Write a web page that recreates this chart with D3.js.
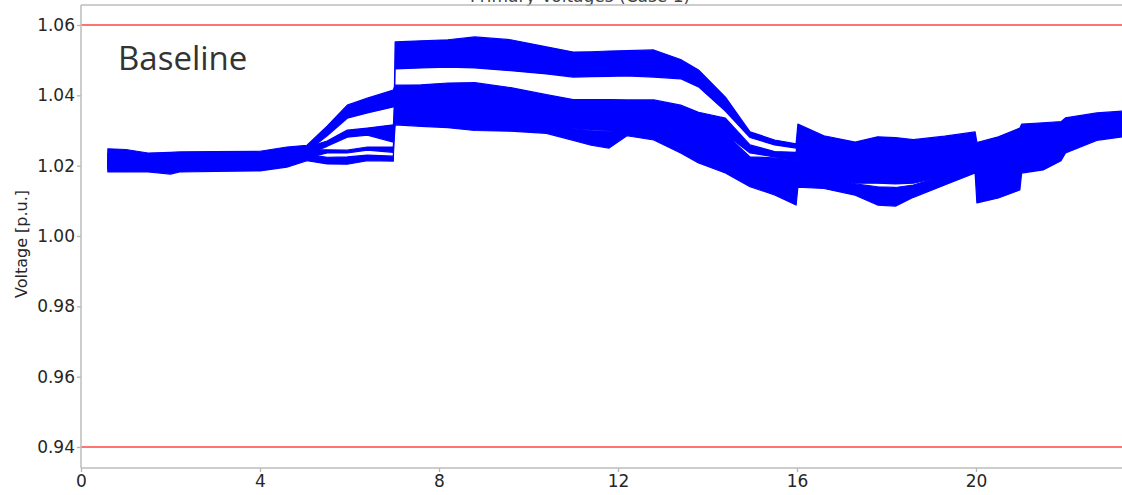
<!DOCTYPE html>
<html>
<head>
<meta charset="utf-8">
<script src="https://cdnjs.cloudflare.com/ajax/libs/d3/7.8.5/d3.min.js"></script>
<style>
    body { margin: 0; background: #fff; }
    .tick text { font-family: "DejaVu Sans", sans-serif; font-size: 17px; fill: #262626; }
    .tick line { stroke: #b5b5b5; stroke-width: 1.3; }
    .y-axis-legend { font-family: "DejaVu Sans", sans-serif; font-size: 16px; fill: #262626; }
    .chart-title { font-family: "DejaVu Sans", sans-serif; font-size: 17px; fill: #444; }
    .case-label { font-family: "Open Sans", sans-serif; font-size: 33px; fill: #333; }
</style>
</head>
<body>
<svg class="VoltChart" width="1122" height="495"></svg>
<script>
// hour of day for every reading below
var hours = [0.6, 1.0, 1.5, 2.0, 2.2, 3.0, 4.0, 4.6, 5.05, 5.5, 5.95, 6.4, 6.98,
    7.02, 7.6, 8.2, 8.8, 9.6, 10.4, 11.0, 11.4, 11.8, 12.2, 12.8, 13.4, 13.8, 14.4, 14.95, 15.5, 15.98,
    16.02, 16.6, 17.3, 17.8, 18.2, 18.6, 19.3, 19.98, 20.02, 20.5, 20.98, 21.02, 21.5, 21.9, 22.0, 22.7, 23.4];

// envelope of each group of node voltages (high / low edge), p.u.
var upperHi = [1.0215, 1.0212, 1.0210, 1.0208, 1.0210, 1.0212, 1.0214, 1.0220, 1.0232, 1.0224, 1.0225, 1.0230, 1.0227,
    1.0552, 1.0555, 1.0558, 1.0566, 1.0558, 1.0538, 1.0523, 1.0524, 1.0526, 1.0527, 1.0529, 1.0502, 1.0472, 1.0395, 1.0296, 1.0273, 1.0262,
    1.0318, 1.0285, 1.0267, 1.0282, 1.0280, 1.0274, 1.0284, 1.0296, 1.0266, 1.0282, 1.0307, 1.0318, 1.0322, 1.0325, 1.0336, 1.0350, 1.0356];
var upperLo = [1.0182, 1.0183, 1.0182, 1.0176, 1.0182, 1.0184, 1.0185, 1.0196, 1.0214, 1.0205, 1.0204, 1.0214, 1.0213,
    1.0475, 1.0478, 1.0480, 1.0478, 1.0470, 1.0461, 1.0452, 1.0453, 1.0454, 1.0455, 1.0452, 1.0447, 1.0424, 1.0355, 1.0280, 1.0259, 1.0250,
    1.0275, 1.0245, 1.0230, 1.0240, 1.0238, 1.0235, 1.0245, 1.0258, 1.0235, 1.0250, 1.0270, 1.0285, 1.0290, 1.0295, 1.0305, 1.0325, 1.0335];

var midTopHi = [1.0248, 1.0246, 1.0236, 1.0238, 1.0239, 1.0240, 1.0241, 1.0253, 1.0258, 1.0312, 1.0372, 1.0392, 1.0415,
    1.0429, 1.0430, 1.0435, 1.0436, 1.0422, 1.0402, 1.0388, 1.0388, 1.0388, 1.0387, 1.0387, 1.0372, 1.0352, 1.0335, 1.0259, 1.0240, 1.0238,
    1.0280, 1.0250, 1.0235, 1.0245, 1.0243, 1.0240, 1.0250, 1.0262, 1.0240, 1.0255, 1.0275, 1.0290, 1.0295, 1.0300, 1.0310, 1.0330, 1.0340];
var midTopLo = [1.0225, 1.0222, 1.0215, 1.0214, 1.0216, 1.0218, 1.0219, 1.0228, 1.0240, 1.0285, 1.0335, 1.0350, 1.0367,
    1.0380, 1.0385, 1.0388, 1.0390, 1.0378, 1.0360, 1.0350, 1.0350, 1.0350, 1.0348, 1.0345, 1.0335, 1.0310, 1.0290, 1.0236, 1.0225, 1.0215,
    1.0230, 1.0205, 1.0190, 1.0195, 1.0192, 1.0190, 1.0205, 1.0222, 1.0195, 1.0215, 1.0230, 1.0250, 1.0255, 1.0265, 1.0275, 1.0305, 1.0315];

var midLowHi = [1.0235, 1.0232, 1.0228, 1.0226, 1.0228, 1.0230, 1.0231, 1.0240, 1.0252, 1.0270, 1.0301, 1.0307, 1.0316,
    1.0385, 1.0388, 1.0390, 1.0392, 1.0380, 1.0365, 1.0352, 1.0352, 1.0352, 1.0350, 1.0348, 1.0338, 1.0315, 1.0290, 1.0225, 1.0222, 1.0215,
    1.0235, 1.0210, 1.0195, 1.0200, 1.0197, 1.0195, 1.0210, 1.0227, 1.0200, 1.0218, 1.0235, 1.0255, 1.0260, 1.0270, 1.0280, 1.0310, 1.0320];
var midLowLo = [1.0200, 1.0198, 1.0196, 1.0194, 1.0196, 1.0198, 1.0199, 1.0208, 1.0232, 1.0255, 1.0281, 1.0287, 1.0267,
    1.0330, 1.0330, 1.0330, 1.0328, 1.0322, 1.0315, 1.0305, 1.0303, 1.0300, 1.0300, 1.0295, 1.0270, 1.0245, 1.0220, 1.0165, 1.0165, 1.0160,
    1.0180, 1.0165, 1.0150, 1.0150, 1.0148, 1.0150, 1.0170, 1.0195, 1.0140, 1.0165, 1.0180, 1.0215, 1.0220, 1.0240, 1.0255, 1.0288, 1.0300];

var lowHi = [1.0225, 1.0222, 1.0220, 1.0218, 1.0219, 1.0221, 1.0222, 1.0230, 1.0245, 1.0245, 1.0244, 1.0253, 1.0253,
    1.0335, 1.0330, 1.0332, 1.0330, 1.0325, 1.0318, 1.0305, 1.0300, 1.0298, 1.0302, 1.0297, 1.0272, 1.0248, 1.0222, 1.0165, 1.0165, 1.0160,
    1.0185, 1.0170, 1.0148, 1.0140, 1.0138, 1.0145, 1.0172, 1.0198, 1.0145, 1.0165, 1.0182, 1.0220, 1.0225, 1.0245, 1.0260, 1.0292, 1.0305];
var lowLo = [1.0190, 1.0188, 1.0186, 1.0184, 1.0186, 1.0188, 1.0189, 1.0198, 1.0222, 1.0236, 1.0236, 1.0244, 1.0238,
    1.0316, 1.0312, 1.0308, 1.0300, 1.0298, 1.0292, 1.0272, 1.0258, 1.0250, 1.0285, 1.0273, 1.0236, 1.0208, 1.0179, 1.0140, 1.0117, 1.0088,
    1.0139, 1.0135, 1.0116, 1.0088, 1.0085, 1.0110, 1.0145, 1.0179, 1.0094, 1.0108, 1.0131, 1.0179, 1.0188, 1.0214, 1.0236, 1.0272, 1.0284];

var limitValues = [0.94, 1.06];
var yTicks = [0.94, 0.96, 0.98, 1.00, 1.02, 1.04, 1.06];
var xTicks = [0, 4, 8, 12, 16, 20];

var meta = {};

function renderVoltageChart()
{
    meta['left'] = 81;
    meta['top'] = 5;
    meta['bottom'] = 468;
    meta['right'] = 1122;

    var svg = d3.select(".VoltChart");

    const xScale = d3.scaleLinear()
        .domain([0, 24])
        .range([meta.left, meta.left + 24 * 44.75]);

    const yScale = d3.scaleLinear()
        .domain([0.94, 1.06])
        .range([447, 25]);

    svg.append('clipPath')
        .attr('id', 'plotClip')
        .append('rect')
        .attr('x', meta.left)
        .attr('y', meta.top)
        .attr('width', meta.right - meta.left)
        .attr('height', meta.bottom - meta.top);

    // title sits above the frame and is mostly cut off, as in the source image
    svg.append('text')
        .attr('class', 'chart-title')
        .attr('x', 580)
        .attr('y', 2)
        .attr('text-anchor', 'middle')
        .text("Primary Voltages (Case 1)");

    var plot = svg.append('g').attr('clip-path', 'url(#plotClip)');

    var groups = [
        { hi: upperHi, lo: upperLo },
        { hi: midTopHi, lo: midTopLo },
        { hi: midLowHi, lo: midLowLo },
        { hi: lowHi, lo: lowLo }
    ];

    groups.forEach(g => {
        var rows = hours.map((h, i) => ({ hour: h, hi: g.hi[i], lo: g.lo[i] }));
        plot.append('path')
            .datum(rows)
            .attr('d', d3.area()
                .x(d => xScale(d.hour))
                .y0(d => yScale(d.lo))
                .y1(d => yScale(d.hi)))
            .attr('fill', '#0000ff')
            .attr('stroke', '#0000ff')
            .attr('stroke-width', 1.2)
            .attr('stroke-linejoin', 'round');
    });

    plot.selectAll('.limit')
        .data(limitValues)
        .enter()
        .append('line')
        .attr('class', 'limit')
        .attr('x1', meta.left)
        .attr('x2', meta.right)
        .attr('y1', d => yScale(d))
        .attr('y2', d => yScale(d))
        .attr('stroke', '#ff0000')
        .attr('stroke-opacity', 0.55)
        .attr('stroke-width', 2);

    svg.append('g')
        .attr('transform', `translate(${meta.left},0)`)
        .call(d3.axisLeft(yScale)
            .tickValues(yTicks)
            .tickFormat(d3.format('.2f'))
            .tickSize(4)
            .tickPadding(2))
        .call(g => g.select('.domain').remove());

    svg.append('g')
        .attr('transform', `translate(0,${meta.bottom})`)
        .call(d3.axisBottom(xScale)
            .tickValues(xTicks)
            .tickSize(4)
            .tickPadding(3))
        .call(g => g.select('.domain').remove());

    // frame
    var spine = [
        [meta.left, meta.top, meta.left, meta.bottom],
        [meta.left, meta.bottom, meta.right, meta.bottom],
        [meta.left, meta.top, meta.right, meta.top]
    ];
    svg.selectAll('.spine')
        .data(spine)
        .enter()
        .append('line')
        .attr('class', 'spine')
        .attr('x1', d => d[0]).attr('y1', d => d[1])
        .attr('x2', d => d[2]).attr('y2', d => d[3])
        .attr('stroke', '#bdbdbd')
        .attr('stroke-width', 1.5);

    svg.append('text')
        .attr('class', 'y-axis-legend')
        .attr('transform', 'rotate(-90)')
        .attr('x', -244)
        .attr('y', 27)
        .attr('text-anchor', 'middle')
        .text("Voltage [p.u.]");

    svg.append('text')
        .attr('class', 'case-label')
        .attr('x', 118)
        .attr('y', 70)
        .text("Baseline");
}

renderVoltageChart();
</script>
</body>
</html>
